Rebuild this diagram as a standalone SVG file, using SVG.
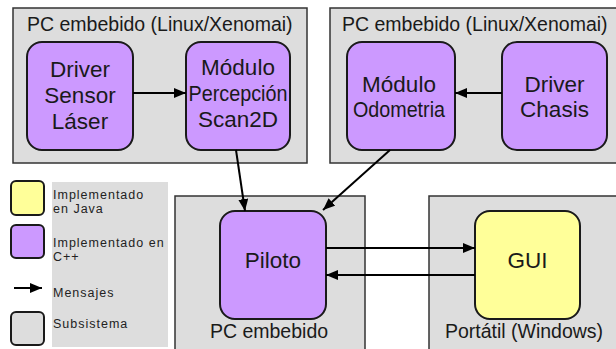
<svg xmlns="http://www.w3.org/2000/svg" width="616" height="349" viewBox="0 0 616 349">
  <style>
    .sub { fill: #dddddd; stroke: #333333; stroke-width: 1.5; }
    .cpp { fill: #cc99ff; stroke: #1a1a1a; stroke-width: 2; }
    .java { fill: #ffff99; stroke: #1a1a1a; stroke-width: 2; }
    .title { font-family: "Liberation Sans", Arial, sans-serif; font-size: 19.5px; fill: #1a1a1a; }
    .node { font-family: "Liberation Sans", Arial, sans-serif; font-size: 22.5px; fill: #1a1a1a; text-anchor: middle; }
    .leg { font-family: "Liberation Sans", Arial, sans-serif; font-size: 12.5px; letter-spacing: 1px; fill: #222222; }
    .conn { stroke: #000000; stroke-width: 2; fill: none; marker-end: url(#arrow); }
  </style>
  <defs>
    <marker id="arrow" viewBox="0 0 12 10" refX="12" refY="5" markerWidth="12" markerHeight="10" markerUnits="userSpaceOnUse" orient="auto">
      <path d="M0,0 L12,5 L0,10 Z" fill="#000000"/>
    </marker>
  </defs>

  <!-- subsystems -->
  <g id="sub-laser-pc">
    <rect class="sub" x="13" y="8" width="294" height="155"/>
    <text class="title" x="27" y="31">PC embebido (Linux/Xenomai)</text>
  </g>
  <g id="sub-chasis-pc">
    <rect class="sub" x="330" y="8" width="300" height="155"/>
    <text class="title" x="342" y="31">PC embebido (Linux/Xenomai)</text>
  </g>
  <g id="sub-piloto-pc">
    <rect class="sub" x="175" y="196" width="190" height="170"/>
    <text class="title" x="269" y="338" text-anchor="middle">PC embebido</text>
  </g>
  <g id="sub-portatil">
    <rect class="sub" x="429" y="196" width="200" height="170"/>
    <text class="title" x="524" y="338" text-anchor="middle">Portátil (Windows)</text>
  </g>

  <!-- modules -->
  <g id="driver-laser">
    <rect class="cpp" x="27" y="42" width="106" height="108" rx="15"/>
    <text class="node" x="80" y="77">Driver</text>
    <text class="node" x="80" y="103">Sensor</text>
    <text class="node" x="80" y="129">Láser</text>
  </g>
  <g id="percepcion">
    <rect class="cpp" x="186" y="42" width="104" height="108" rx="15"/>
    <text class="node" x="238" y="75">Módulo</text>
    <text class="node" x="238" y="101" textLength="99" lengthAdjust="spacingAndGlyphs">Percepción</text>
    <text class="node" x="238" y="127">Scan2D</text>
  </g>
  <g id="odometria">
    <rect class="cpp" x="347" y="42" width="108" height="108" rx="15"/>
    <text class="node" x="399" y="92">Módulo</text>
    <text class="node" x="399" y="117" textLength="92" lengthAdjust="spacingAndGlyphs">Odometria</text>
  </g>
  <g id="driver-chasis">
    <rect class="cpp" x="502" y="42" width="105" height="108" rx="15"/>
    <text class="node" x="554.5" y="92">Driver</text>
    <text class="node" x="554.5" y="117">Chasis</text>
  </g>
  <g id="piloto">
    <rect class="cpp" x="220" y="211" width="106" height="108" rx="15"/>
    <text class="node" x="273" y="268">Piloto</text>
  </g>
  <g id="gui">
    <rect class="java" x="475" y="211" width="105" height="108" rx="15"/>
    <text class="node" x="527.5" y="268">GUI</text>
  </g>

  <!-- messages -->
  <g id="connectors">
    <line class="conn" x1="133" y1="93" x2="186" y2="93"/>
    <line class="conn" x1="502" y1="93" x2="455" y2="93"/>
    <line class="conn" x1="236" y1="150" x2="245" y2="211"/>
    <line class="conn" x1="390" y1="150" x2="323" y2="210"/>
    <line class="conn" x1="326" y1="248" x2="475" y2="248"/>
    <line class="conn" x1="475" y1="275" x2="326" y2="275"/>
  </g>

  <!-- legend -->
  <g id="legend">
    <rect x="52" y="182" width="116" height="165" fill="#dddddd"/>
    <rect class="java" x="11" y="181" width="33" height="34" rx="5"/>
    <text class="leg" x="53" y="199">Implementado</text>
    <text class="leg" x="53" y="213">en Java</text>
    <rect class="cpp" x="11" y="225" width="33" height="33" rx="5"/>
    <text class="leg" x="53" y="247">Implementado en</text>
    <text class="leg" x="53" y="261">C++</text>
    <line class="conn" x1="14" y1="288" x2="42" y2="288"/>
    <text class="leg" x="53" y="297">Mensajes</text>
    <rect class="sub" x="11" y="312" width="33" height="33" rx="5" style="stroke:#1a1a1a;stroke-width:2"/>
    <text class="leg" x="53" y="328">Subsistema</text>
  </g>
</svg>
